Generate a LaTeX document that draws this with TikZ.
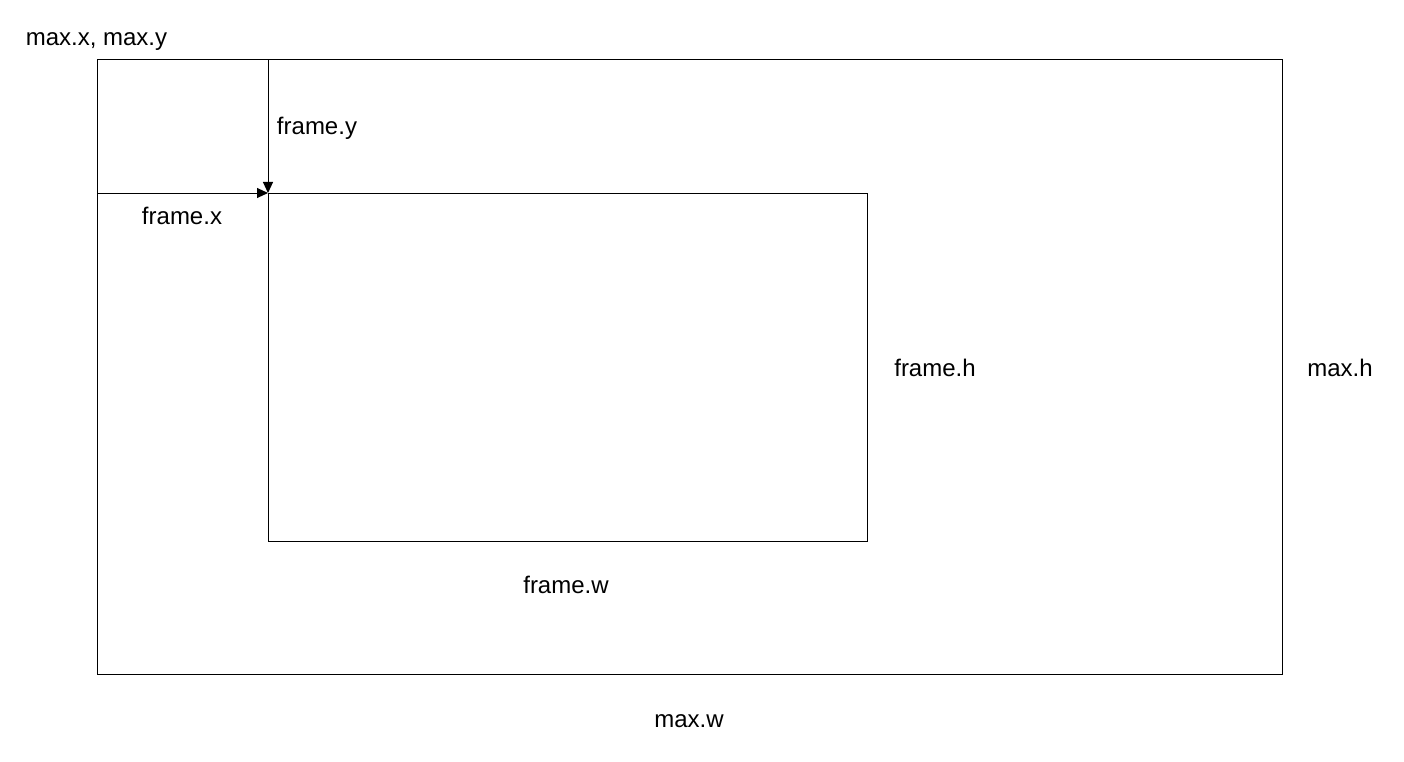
\documentclass[tikz,border=0pt]{standalone}
\usepackage{fontspec}
\setmainfont{Liberation Sans}
\usetikzlibrary{arrows.meta,positioning}

\begin{document}
\begin{tikzpicture}[
        x=1pt, y=-1pt,
        font=\fontsize{24}{28}\selectfont,
        box/.style={draw, line width=1pt, inner sep=0pt, outer sep=0pt},
        lbl/.style={inner sep=0pt},
        arr/.style={line width=1pt, -{Triangle[length=11pt,width=10pt]}}
    ]
        \useasboundingbox (0,0) rectangle (1404,762);
        % boxes
        \node[box, minimum width=1185pt, minimum height=614pt] (maxbox) at (689.5,367) {};
        \node[box, minimum width=599pt, minimum height=348pt] (framebox) at (567.5,367) {};
        % offsets
        \coordinate (ytop) at (maxbox.north -| framebox.west);
        \coordinate (xleft) at (maxbox.west |- framebox.north);
        \draw[arr] (ytop) -- (framebox.north west);
        \draw[arr] (xleft) -- (framebox.north west);
        % labels
        \node[lbl] (maxxy) at (96.5,42) {max.x, max.y};
        \node[lbl] (framey) at (317,128) {frame.y};
        \node[lbl] (framex) at (182,216) {frame.x};
        \node[lbl] (frameh) at (935,368) {frame.h};
        \node[lbl] (maxh) at (1340,368) {max.h};
        \node[lbl] (framew) at (566,585) {frame.w};
        \node[lbl] (maxw) at (689,721) {max.w};
    \end{tikzpicture}
\end{document}
